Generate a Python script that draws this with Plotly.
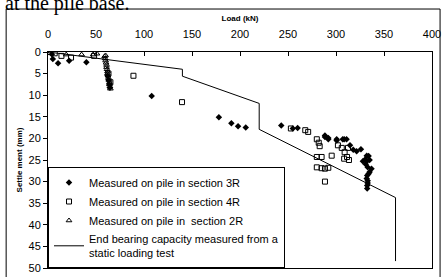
import plotly.graph_objects as go

# Section 3R (filled diamonds)
load_3r = [4, 5, 10.5, 22, 40, 62, 63, 64, 64.5, 108, 178, 191, 198, 206, 243, 255, 260,
           288.5, 292, 300.7, 307, 288.5, 292, 300.7, 308.5, 311, 314.6, 321.5, 332, 334,
           328, 332, 335, 333, 335, 332.5, 333, 332.5, 332.5, 337, 330.6, 326, 318, 331,
           334, 332, 333]
sett_3r = [0.5, 1.6, 2.6, 2.0, 2.4, 5.5, 6.5, 7.5, 8.3, 10.2, 15.1, 16.5, 17.2, 17.5, 17.0, 17.7, 17.6,
           19.3, 19.9, 20.2, 20.2, 19.7, 20.2, 20.5, 20.2, 20.2, 21.6, 23.0, 24.0, 24.1,
           25.3, 25.3, 25.0, 26.7, 27.8, 28.6, 29.8, 30.9, 31.6, 27.0, 24.8, 22.5, 22.6, 26.0,
           28.2, 29.3, 30.3]

# Section 4R (open squares)
load_4r = [7, 14, 24, 48, 63, 65, 89, 139.6, 253, 268, 271, 280, 282, 283, 280, 285, 295.5,
           280, 285, 288.5, 292, 288.5, 302, 306, 309, 311.5, 313.5, 308.5, 312.5]
sett_4r = [0.3, 0.9, 1.3, 0.9, 5.0, 7.0, 5.5, 11.6, 17.7, 18.1, 18.5, 20.2, 21.0, 21.8, 24.3, 24.3, 24.0,
           26.7, 26.9, 27.0, 26.8, 30.0, 21.6, 22.2, 23.2, 24.3, 25.0, 24.7, 22.2]

# Section 2R (open triangles)
load_2r = [2, 19, 35, 47, 51, 60, 59, 59.5, 60, 60.5, 61, 61, 61.5, 62, 62, 62.5, 63, 63.5, 64, 64, 64.5, 65]
sett_2r = [0.3, 0.6, 0.6, 0.6, 0.4, 0.8, 1.0, 1.5, 2.0, 2.5, 3.0, 3.5, 4.0, 4.5, 5.0, 5.5, 6.0, 6.5, 7.0, 7.5, 8.0, 8.5]

# End bearing capacity from static loading test
load_line = [0, 140, 140, 220, 220, 362, 362]
sett_line = [0, 4.0, 5.6, 11.9, 17.9, 33.7, 48.4]

x_ticks = [0, 50, 100, 150, 200, 250, 300, 350, 400]
y_ticks = [0, 5, 10, 15, 20, 25, 30, 35, 40, 45, 50]

fig = go.Figure()
fig.add_trace(go.Scatter(x=load_3r, y=sett_3r, mode="markers",
                         name="Measured on pile in section 3R",
                         marker=dict(symbol="diamond", size=5, color="black")))
fig.add_trace(go.Scatter(x=load_4r, y=sett_4r, mode="markers",
                         name="Measured on pile in section 4R",
                         marker=dict(symbol="square-open", size=5, color="black",
                                     line=dict(width=1))))
fig.add_trace(go.Scatter(x=load_2r, y=sett_2r, mode="markers",
                         name="Measured on pile in  section 2R",
                         marker=dict(symbol="triangle-up-open", size=5, color="black",
                                     line=dict(width=1))))
fig.add_trace(go.Scatter(x=load_line, y=sett_line, mode="lines",
                         name="End bearing capacity measured from a<br>static loading test",
                         line=dict(color="black", width=1)))

fig.update_layout(
    width=444, height=277,
    margin=dict(l=48, r=12, t=52, b=9),
    paper_bgcolor="white", plot_bgcolor="white",
    font=dict(family="Liberation Sans, Arial", color="black", size=11),
    xaxis=dict(side="top", range=[0, 400], tickvals=x_ticks, showgrid=False, automargin=False,
               zeroline=False, showline=True, linecolor="black", linewidth=1, mirror=True,
               ticks="inside", ticklen=4, tickcolor="black", tickfont=dict(size=11),
               ticklabelstandoff=9,
               title=dict(text="<b>Load (kN)</b>", font=dict(size=8), standoff=4)),
    yaxis=dict(range=[50, 0], tickvals=y_ticks, showgrid=False, zeroline=False, automargin=False,
               showline=True, linecolor="black", linewidth=1, mirror=True,
               ticks="outside", ticklen=4, tickcolor="black", tickfont=dict(size=11),
               title=dict(text="<b>Settle ment (mm)</b>", font=dict(size=8), standoff=4)),
    legend=dict(x=0, y=0, xanchor="left", yanchor="bottom", bgcolor="white",
                bordercolor="black", borderwidth=1, font=dict(size=11),
                tracegroupgap=0, itemwidth=30),
    showlegend=True,
)

fig.add_annotation(text="at the pile base.", xref="paper", yref="paper",
                   x=-0.118, y=1.225, xanchor="left", yanchor="middle", showarrow=False,
                   font=dict(family="Liberation Serif, Times New Roman", size=20, color="black"))

fig.add_shape(type="rect", xref="paper", yref="paper", x0=-0.109, x1=1.021, y0=-0.2, y1=1.199,
              line=dict(color="black", width=1), layer="below")

fig.write_html("out.html", config={"displayModeBar": False},
               post_script="document.body.style.margin='0';document.body.style.overflow='hidden';")
